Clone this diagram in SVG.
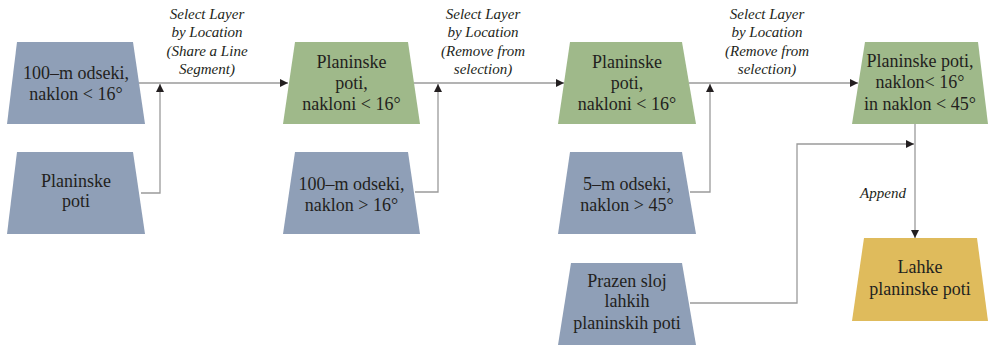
<svg xmlns="http://www.w3.org/2000/svg" width="988" height="345" viewBox="0 0 988 345">
  <style>
    .blue { fill: #8f9fb7; }
    .green { fill: #9fb98a; }
    .yellow { fill: #dfbb5c; }
    text { font-family: 'Liberation Serif', 'Times New Roman', Tinos, 'DejaVu Serif', serif; fill: #231f20; text-anchor: middle; }
    .node text { font-size: 18px; }
    .lbl { font-size: 15px; font-style: italic; }
    .wire { fill: none; stroke: #9a9a9a; stroke-width: 1.3; }
  </style>
  <defs>
    <marker id="arrow" viewBox="0 0 10 10" refX="10" refY="5" markerWidth="8" markerHeight="8" markerUnits="userSpaceOnUse" orient="auto">
      <path d="M0,0 L10,5 L0,10 Z" fill="#231f20"/>
    </marker>
  </defs>
  <rect width="988" height="345" fill="#ffffff"/>

  <!-- connectors -->
  <g id="connectors">
    <path class="wire" d="M139,83 H288" marker-end="url(#arrow)"/>
    <path class="wire" d="M141,193 H160 V84" marker-end="url(#arrow)"/>
    <path class="wire" d="M414,83 H564" marker-end="url(#arrow)"/>
    <path class="wire" d="M415,192 H438 V84" marker-end="url(#arrow)"/>
    <path class="wire" d="M689,83 H858" marker-end="url(#arrow)"/>
    <path class="wire" d="M690,192 H710 V84" marker-end="url(#arrow)"/>
    <path class="wire" d="M915,124 V238" marker-end="url(#arrow)"/>
    <path class="wire" d="M690,303 H797 V144 H914" marker-end="url(#arrow)"/>
    <text class="lbl" x="207" y="19">Select Layer</text>
    <text class="lbl" x="207" y="37">by Location</text>
    <text class="lbl" x="207" y="56">(Share a Line</text>
    <text class="lbl" x="207" y="74">Segment)</text>
    <text class="lbl" x="483" y="19">Select Layer</text>
    <text class="lbl" x="483" y="37">by Location</text>
    <text class="lbl" x="483" y="56">(Remove from</text>
    <text class="lbl" x="483" y="74">selection)</text>
    <text class="lbl" x="767" y="19">Select Layer</text>
    <text class="lbl" x="767" y="37">by Location</text>
    <text class="lbl" x="767" y="56">(Remove from</text>
    <text class="lbl" x="767" y="74">selection)</text>
    <text class="lbl" x="883" y="198">Append</text>
  </g>

  <!-- nodes -->
  <g id="odseki100-lt16" class="node">
    <polygon class="blue" points="17,42 133,42 145,124 7,124"/>
    <text x="76" y="79">100–m odseki,</text>
    <text x="76" y="100">naklon &lt; 16°</text>
  </g>
  <g id="planinske-poti" class="node">
    <polygon class="blue" points="17,152 133,152 145,234 7,234"/>
    <text x="76" y="187">Planinske</text>
    <text x="76" y="207">poti</text>
  </g>
  <g id="poti-lt16-a" class="node">
    <polygon class="green" points="295,42 408,42 420,124 283,124"/>
    <text x="351.5" y="68">Planinske</text>
    <text x="351.5" y="89">poti,</text>
    <text x="351.5" y="110">nakloni &lt; 16°</text>
  </g>
  <g id="odseki100-gt16" class="node">
    <polygon class="blue" points="295,152 408,152 420,234 283,234"/>
    <text x="351.5" y="190">100–m odseki,</text>
    <text x="351.5" y="211">naklon &gt; 16°</text>
  </g>
  <g id="poti-lt16-b" class="node">
    <polygon class="green" points="570,42 682,42 696,124 558,124"/>
    <text x="627" y="68">Planinske</text>
    <text x="627" y="89">poti,</text>
    <text x="627" y="110">nakloni &lt; 16°</text>
  </g>
  <g id="odseki5-gt45" class="node">
    <polygon class="blue" points="570,152 682,152 696,234 558,234"/>
    <text x="627" y="190">5–m odseki,</text>
    <text x="627" y="211">naklon &gt; 45°</text>
  </g>
  <g id="poti-final" class="node">
    <polygon class="green" points="865,42 978,42 988,124 852,124"/>
    <text x="920" y="67">Planinske poti,</text>
    <text x="920" y="88">naklon&lt; 16°</text>
    <text x="920" y="110">in naklon &lt; 45°</text>
  </g>
  <g id="lahke-poti" class="node">
    <polygon class="yellow" points="864,238 977,238 988,321 852,321"/>
    <text x="920" y="273">Lahke</text>
    <text x="920" y="295">planinske poti</text>
  </g>
  <g id="prazen-sloj" class="node">
    <polygon class="blue" points="571,263 682,263 696,345 558,345"/>
    <text x="627" y="287">Prazen sloj</text>
    <text x="627" y="307">lahkih</text>
    <text x="627" y="329">planinskih poti</text>
  </g>
</svg>
